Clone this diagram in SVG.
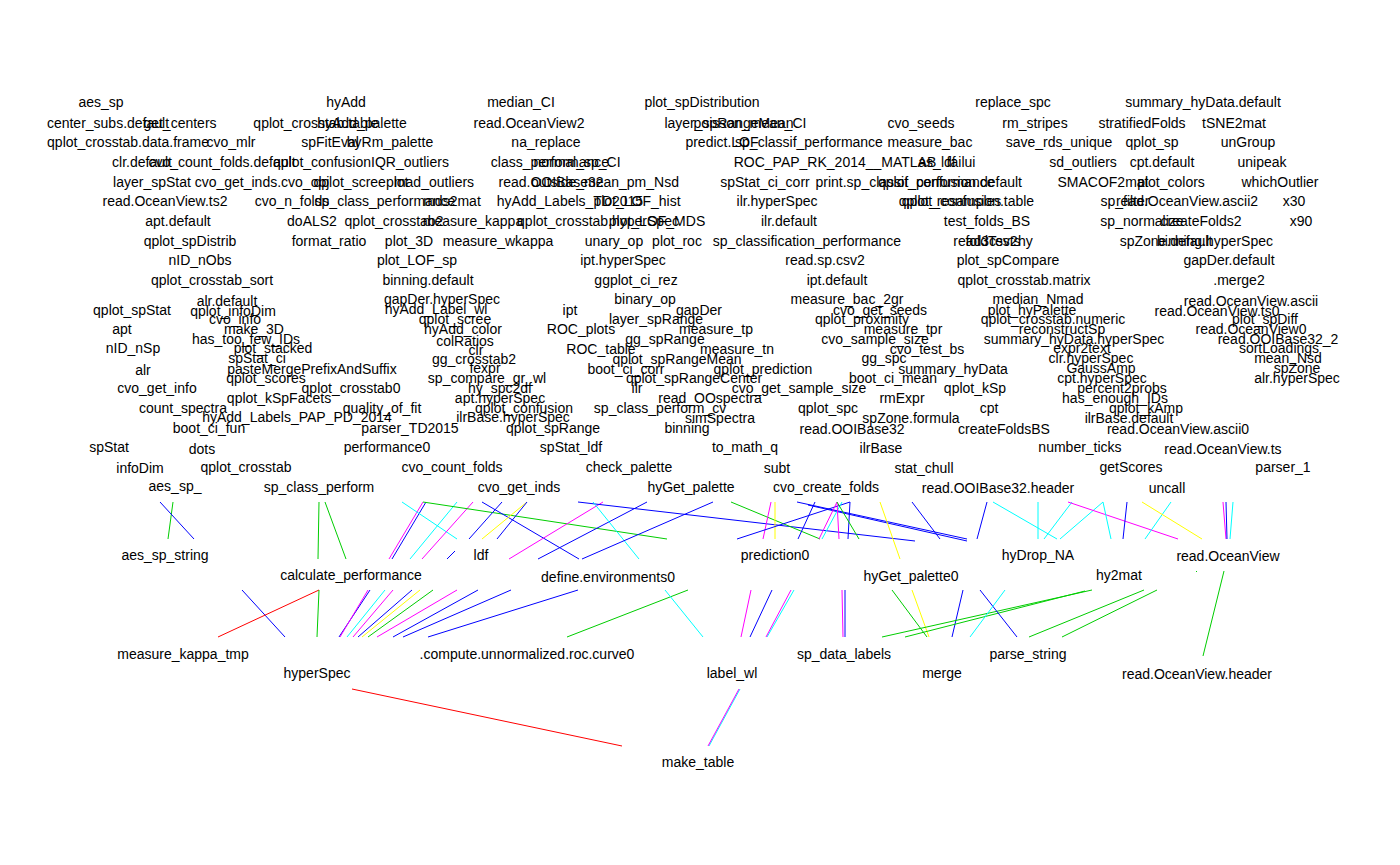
<svg xmlns="http://www.w3.org/2000/svg" width="1400" height="865" viewBox="0 0 1400 865">
<style>
text{font-family:"Liberation Sans",Arial,sans-serif;font-size:14px;text-anchor:middle;fill:#000}
line{stroke-width:1;fill:none}
.b{stroke:#0000FF}.g{stroke:#00CD00}.c{stroke:#00FFFF}.m{stroke:#FF00FF}.y{stroke:#FFFF00}.r{stroke:#FF0000}
</style>
<rect width="1400" height="865" fill="#fff"/>
<g id="connectors">
<line class="g" x1="173" y1="502" x2="168" y2="539"/>
<line class="b" x1="160" y1="502" x2="194" y2="539"/>
<line class="g" x1="319" y1="502" x2="318" y2="559"/>
<line class="g" x1="325" y1="502" x2="346" y2="559"/>
<line class="m" x1="423" y1="502" x2="389" y2="559"/>
<line class="b" x1="426" y1="502" x2="392" y2="559"/>
<line class="c" x1="402" y1="502" x2="457" y2="539"/>
<line class="c" x1="457" y1="502" x2="410" y2="559"/>
<line class="m" x1="473" y1="502" x2="422" y2="559"/>
<line class="g" x1="423" y1="502" x2="667" y2="539"/>
<line class="b" x1="482" y1="502" x2="579" y2="559"/>
<line class="b" x1="502" y1="502" x2="469" y2="539"/>
<line class="y" x1="527" y1="502" x2="482" y2="539"/>
<line class="b" x1="527" y1="502" x2="497" y2="539"/>
<line class="b" x1="455" y1="551" x2="447" y2="559"/>
<line class="m" x1="603" y1="502" x2="509" y2="559"/>
<line class="b" x1="647" y1="502" x2="538" y2="559"/>
<line class="b" x1="578" y1="502" x2="915" y2="541"/>
<line class="c" x1="593" y1="502" x2="639" y2="559"/>
<line class="b" x1="713" y1="502" x2="582" y2="559"/>
<line class="g" x1="731" y1="502" x2="820" y2="539"/>
<line class="m" x1="771" y1="502" x2="763" y2="539"/>
<line class="y" x1="775" y1="502" x2="775" y2="539"/>
<line class="b" x1="797" y1="502" x2="967" y2="539"/>
<line class="b" x1="808" y1="505" x2="967" y2="541"/>
<line class="b" x1="912" y1="502" x2="940" y2="539"/>
<line class="b" x1="850" y1="502" x2="737" y2="539"/>
<line class="b" x1="815" y1="502" x2="798" y2="539"/>
<line class="b" x1="850" y1="502" x2="848" y2="539"/>
<line class="m" x1="837" y1="502" x2="819" y2="539"/>
<line class="c" x1="842" y1="502" x2="822" y2="539"/>
<line class="m" x1="837" y1="502" x2="839" y2="539"/>
<line class="g" x1="837" y1="502" x2="859" y2="539"/>
<line class="y" x1="880" y1="502" x2="900" y2="559"/>
<line class="b" x1="987" y1="502" x2="977" y2="539"/>
<line class="c" x1="993" y1="502" x2="1057" y2="539"/>
<line class="c" x1="1038" y1="502" x2="1038" y2="539"/>
<line class="c" x1="1072" y1="502" x2="1044" y2="539"/>
<line class="c" x1="1103" y1="502" x2="1060" y2="539"/>
<line class="m" x1="1068" y1="502" x2="1178" y2="539"/>
<line class="c" x1="1103" y1="502" x2="1111" y2="539"/>
<line class="b" x1="1127" y1="502" x2="1123" y2="539"/>
<line class="c" x1="1171" y1="502" x2="1145" y2="539"/>
<line class="y" x1="1142" y1="502" x2="1202" y2="539"/>
<line class="m" x1="1223" y1="502" x2="1226" y2="539"/>
<line class="b" x1="1226" y1="502" x2="1227" y2="539"/>
<line class="c" x1="1233" y1="502" x2="1230" y2="539"/>
<line class="b" x1="242" y1="590" x2="285" y2="637"/>
<line class="r" x1="319" y1="590" x2="218" y2="637"/>
<line class="g" x1="319" y1="590" x2="317" y2="637"/>
<line class="b" x1="370" y1="590" x2="339" y2="637"/>
<line class="m" x1="368" y1="590" x2="340" y2="637"/>
<line class="c" x1="385" y1="590" x2="347" y2="637"/>
<line class="m" x1="393" y1="590" x2="353" y2="637"/>
<line class="b" x1="412" y1="590" x2="358" y2="637"/>
<line class="y" x1="420" y1="590" x2="362" y2="637"/>
<line class="g" x1="433" y1="590" x2="368" y2="637"/>
<line class="m" x1="457" y1="590" x2="377" y2="637"/>
<line class="b" x1="478" y1="590" x2="393" y2="637"/>
<line class="b" x1="511" y1="590" x2="403" y2="637"/>
<line class="b" x1="578" y1="590" x2="428" y2="637"/>
<line class="g" x1="688" y1="590" x2="567" y2="637"/>
<line class="c" x1="665" y1="590" x2="703" y2="637"/>
<line class="m" x1="751" y1="590" x2="741" y2="637"/>
<line class="b" x1="772" y1="590" x2="750" y2="637"/>
<line class="c" x1="794" y1="590" x2="767" y2="637"/>
<line class="m" x1="791" y1="590" x2="766" y2="637"/>
<line class="m" x1="842" y1="590" x2="843" y2="637"/>
<line class="b" x1="845" y1="590" x2="845" y2="637"/>
<line class="g" x1="892" y1="590" x2="927" y2="637"/>
<line class="y" x1="912" y1="590" x2="929" y2="637"/>
<line class="b" x1="963" y1="590" x2="952" y2="637"/>
<line class="g" x1="1092" y1="590" x2="882" y2="637"/>
<line class="g" x1="1085" y1="591" x2="905" y2="637"/>
<line class="b" x1="980" y1="590" x2="1017" y2="637"/>
<line class="c" x1="1005" y1="590" x2="970" y2="637"/>
<line class="g" x1="1144" y1="590" x2="1029" y2="637"/>
<line class="g" x1="1157" y1="590" x2="1062" y2="637"/>
<line class="g" x1="1224" y1="571" x2="1203" y2="656"/>
<line class="g" x1="1196" y1="571" x2="1197" y2="572"/>
<line class="r" x1="352" y1="689" x2="622" y2="746"/>
<line class="c" x1="740" y1="689" x2="709" y2="746"/>
<line class="m" x1="739" y1="689" x2="708" y2="746"/>
</g>
<g id="n1"><text x="101" y="107">aes_sp</text></g>
<g id="n2"><text x="346" y="107">hyAdd</text></g>
<g id="n3"><text x="521" y="107">median_CI</text></g>
<g id="n4"><text x="702" y="107">plot_spDistribution</text></g>
<g id="n5"><text x="1013" y="107">replace_spc</text></g>
<g id="n6"><text x="1203" y="107">summary_hyData.default</text></g>
<g id="n7"><text x="108" y="128">center_subs.default</text></g>
<g id="n8"><text x="180" y="128">get_centers</text></g>
<g id="n9"><text x="316" y="128">qplot_crosstab.table</text></g>
<g id="n10"><text x="362" y="128">hyAdd_palette</text></g>
<g id="n11"><text x="529" y="128">read.OceanView2</text></g>
<g id="n12"><text x="729" y="128">layer_spRangeMean</text></g>
<g id="n13"><text x="750" y="128">poisson_mean_CI</text></g>
<g id="n14"><text x="921" y="128">cvo_seeds</text></g>
<g id="n15"><text x="1035" y="128">rm_stripes</text></g>
<g id="n16"><text x="1142" y="128">stratifiedFolds</text></g>
<g id="n17"><text x="1234" y="128">tSNE2mat</text></g>
<g id="n18"><text x="128" y="147">qplot_crosstab.data.frame</text></g>
<g id="n19"><text x="231" y="147">cvo_mlr</text></g>
<g id="n20"><text x="330" y="147">spFitEval</text></g>
<g id="n21"><text x="390" y="147">hyRm_palette</text></g>
<g id="n22"><text x="546" y="147">na_replace</text></g>
<g id="n23"><text x="722" y="147">predict.LOF</text></g>
<g id="n24"><text x="809" y="147">sp_classif_performance</text></g>
<g id="n25"><text x="930" y="147">measure_bac</text></g>
<g id="n26"><text x="1059" y="147">save_rds_unique</text></g>
<g id="n27"><text x="1152" y="147">qplot_sp</text></g>
<g id="n28"><text x="1248" y="147">unGroup</text></g>
<g id="n29"><text x="142" y="167">clr.default</text></g>
<g id="n30"><text x="222" y="167">cvo_count_folds.default</text></g>
<g id="n31"><text x="322" y="167">qplot_confusion</text></g>
<g id="n32"><text x="410" y="167">IQR_outliers</text></g>
<g id="n33"><text x="550" y="167">class_performance</text></g>
<g id="n34"><text x="577" y="167">normal_sp_CI</text></g>
<g id="n35"><text x="835" y="167">ROC_PAP_RK_2014__MATLAB</text></g>
<g id="n36"><text x="937" y="167">as_ldf</text></g>
<g id="n37"><text x="961" y="167">failui</text></g>
<g id="n38"><text x="1083" y="167">sd_outliers</text></g>
<g id="n39"><text x="1162" y="167">cpt.default</text></g>
<g id="n40"><text x="1262" y="167">unipeak</text></g>
<g id="n41"><text x="152" y="187">layer_spStat</text></g>
<g id="n42"><text x="262" y="187">cvo_get_inds.cvo_obj</text></g>
<g id="n43"><text x="361" y="187">qplot_screeplot</text></g>
<g id="n44"><text x="434" y="187">mad_outliers</text></g>
<g id="n45"><text x="551" y="187">read.OOIBase32</text></g>
<g id="n46"><text x="605" y="187">outside_mean_pm_Nsd</text></g>
<g id="n47"><text x="765" y="187">spStat_ci_corr</text></g>
<g id="n48"><text x="905" y="187">print.sp_classif_performance</text></g>
<g id="n49"><text x="950" y="187">qplot_confusion.default</text></g>
<g id="n50"><text x="1103" y="187">SMACOF2mat</text></g>
<g id="n51"><text x="1171" y="187">plot_colors</text></g>
<g id="n52"><text x="1280" y="187">whichOutlier</text></g>
<g id="n53"><text x="165" y="206">read.OceanView.ts2</text></g>
<g id="n54"><text x="292" y="206">cvo_n_folds</text></g>
<g id="n55"><text x="385" y="206">sp_class_performance</text></g>
<g id="n56"><text x="452" y="206">mds2mat</text></g>
<g id="n57"><text x="570" y="206">hyAdd_Labels_TD2015</text></g>
<g id="n58"><text x="637" y="206">plot_LOF_hist</text></g>
<g id="n59"><text x="777" y="206">ilr.hyperSpec</text></g>
<g id="n60"><text x="950" y="206">qplot_resamples</text></g>
<g id="n61"><text x="968" y="206">qplot_confusion.table</text></g>
<g id="n62"><text x="1125" y="206">sp_filter</text></g>
<g id="n63"><text x="1187" y="206">read.OceanView.ascii2</text></g>
<g id="n64"><text x="1294" y="206">x30</text></g>
<g id="n65"><text x="178" y="226">apt.default</text></g>
<g id="n66"><text x="312" y="226">doALS2</text></g>
<g id="n67"><text x="394" y="226">qplot_crosstab2</text></g>
<g id="n68"><text x="473" y="226">measure_kappa</text></g>
<g id="n69"><text x="598" y="226">qplot_crosstab.hyperSpec</text></g>
<g id="n70"><text x="657" y="226">plot_LOF_MDS</text></g>
<g id="n71"><text x="789" y="226">ilr.default</text></g>
<g id="n72"><text x="987" y="226">test_folds_BS</text></g>
<g id="n73"><text x="1142" y="226">sp_normalize</text></g>
<g id="n74"><text x="1201" y="226">createFolds2</text></g>
<g id="n75"><text x="1301" y="226">x90</text></g>
<g id="n76"><text x="190" y="246">qplot_spDistrib</text></g>
<g id="n77"><text x="329" y="246">format_ratio</text></g>
<g id="n78"><text x="409" y="246">plot_3D</text></g>
<g id="n79"><text x="498" y="246">measure_wkappa</text></g>
<g id="n80"><text x="614" y="246">unary_op</text></g>
<g id="n81"><text x="677" y="246">plot_roc</text></g>
<g id="n82"><text x="807" y="246">sp_classification_performance</text></g>
<g id="n83"><text x="993" y="246">read3csv2hy</text></g>
<g id="n84"><text x="993" y="246">foldTests</text></g>
<g id="n85"><text x="1166" y="246">spZone.default</text></g>
<g id="n86"><text x="1215" y="246">binning.hyperSpec</text></g>
<g id="n87"><text x="200" y="265">nID_nObs</text></g>
<g id="n88"><text x="417" y="265">plot_LOF_sp</text></g>
<g id="n89"><text x="623" y="265">ipt.hyperSpec</text></g>
<g id="n90"><text x="825" y="265">read.sp.csv2</text></g>
<g id="n91"><text x="1008" y="265">plot_spCompare</text></g>
<g id="n92"><text x="1229" y="265">gapDer.default</text></g>
<g id="n93"><text x="212" y="285">qplot_crosstab_sort</text></g>
<g id="n94"><text x="428" y="285">binning.default</text></g>
<g id="n95"><text x="636" y="285">ggplot_ci_rez</text></g>
<g id="n96"><text x="837" y="285">ipt.default</text></g>
<g id="n97"><text x="1024" y="285">qplot_crosstab.matrix</text></g>
<g id="n98"><text x="1239" y="285">.merge2</text></g>
<g id="n99"><text x="227" y="306">alr.default</text></g>
<g id="n100"><text x="132" y="315">qplot_spStat</text></g>
<g id="n101"><text x="233" y="316">qplot_infoDim</text></g>
<g id="n102"><text x="122" y="334">apt</text></g>
<g id="n103"><text x="235" y="324">cvo_info</text></g>
<g id="n104"><text x="254" y="334">make_3D</text></g>
<g id="n105"><text x="246" y="344">has_too_few_IDs</text></g>
<g id="n106"><text x="133" y="353">nID_nSp</text></g>
<g id="n107"><text x="273" y="353">plot_stacked</text></g>
<g id="n108"><text x="257" y="363">spStat_ci</text></g>
<g id="n109"><text x="143" y="375">alr</text></g>
<g id="n110"><text x="312" y="374">pasteMergePrefixAndSuffix</text></g>
<g id="n111"><text x="266" y="383">qplot_scores</text></g>
<g id="n112"><text x="157" y="393">cvo_get_info</text></g>
<g id="n113"><text x="351" y="393">qplot_crosstab0</text></g>
<g id="n114"><text x="279" y="403">qplot_kSpFacets</text></g>
<g id="n115"><text x="183" y="413">count_spectra</text></g>
<g id="n116"><text x="382" y="413">quality_of_fit</text></g>
<g id="n117"><text x="297" y="422">hyAdd_Labels_PAP_PD_2014</text></g>
<g id="n118"><text x="209" y="433">boot_ci_fun</text></g>
<g id="n119"><text x="410" y="433">parser_TD2015</text></g>
<g id="n120"><text x="109" y="452">spStat</text></g>
<g id="n121"><text x="202" y="454">dots</text></g>
<g id="n122"><text x="387" y="452">performance0</text></g>
<g id="n123"><text x="140" y="473">infoDim</text></g>
<g id="n124"><text x="246" y="472">qplot_crosstab</text></g>
<g id="n125"><text x="442" y="304">gapDer.hyperSpec</text></g>
<g id="n126"><text x="436" y="314">hyAdd_Label_wl</text></g>
<g id="n127"><text x="455" y="324">qplot_scree</text></g>
<g id="n128"><text x="463" y="334">hyAdd_color</text></g>
<g id="n129"><text x="465" y="346">colRatios</text></g>
<g id="n130"><text x="476" y="355">clr</text></g>
<g id="n131"><text x="474" y="364">gg_crosstab2</text></g>
<g id="n132"><text x="485" y="373">fexpr</text></g>
<g id="n133"><text x="487" y="383">sp_compare_gr_wl</text></g>
<g id="n134"><text x="500" y="393">hy_spc2df</text></g>
<g id="n135"><text x="500" y="403">apt.hyperSpec</text></g>
<g id="n136"><text x="524" y="413">qplot_confusion</text></g>
<g id="n137"><text x="513" y="422">ilrBase.hyperSpec</text></g>
<g id="n138"><text x="553" y="433">qplot_spRange</text></g>
<g id="n139"><text x="571" y="452">spStat_ldf</text></g>
<g id="n140"><text x="452" y="472">cvo_count_folds</text></g>
<g id="n141"><text x="629" y="472">check_palette</text></g>
<g id="n142"><text x="645" y="304">binary_op</text></g>
<g id="n143"><text x="570" y="315">ipt</text></g>
<g id="n144"><text x="699" y="315">gapDer</text></g>
<g id="n145"><text x="656" y="324">layer_spRange</text></g>
<g id="n146"><text x="581" y="334">ROC_plots</text></g>
<g id="n147"><text x="716" y="334">measure_tp</text></g>
<g id="n148"><text x="665" y="344">gg_spRange</text></g>
<g id="n149"><text x="601" y="354">ROC_table</text></g>
<g id="n150"><text x="737" y="354">measure_tn</text></g>
<g id="n151"><text x="677" y="364">qplot_spRangeMean</text></g>
<g id="n152"><text x="626" y="374">boot_ci_corr</text></g>
<g id="n153"><text x="763" y="374">qplot_prediction</text></g>
<g id="n154"><text x="694" y="383">qplot_spRangeCenter</text></g>
<g id="n155"><text x="637" y="393">ilr</text></g>
<g id="n156"><text x="799" y="393">cvo_get_sample_size</text></g>
<g id="n157"><text x="710" y="403">read_OOspectra</text></g>
<g id="n158"><text x="660" y="413">sp_class_perform_cv</text></g>
<g id="n159"><text x="720" y="423">simSpectra</text></g>
<g id="n160"><text x="687" y="433">binning</text></g>
<g id="n161"><text x="745" y="452">to_math_q</text></g>
<g id="n162"><text x="847" y="304">measure_bac_2gr</text></g>
<g id="n163"><text x="880" y="315">cvo_get_seeds</text></g>
<g id="n164"><text x="862" y="324">qplot_proximity</text></g>
<g id="n165"><text x="903" y="334">measure_tpr</text></g>
<g id="n166"><text x="875" y="344">cvo_sample_size</text></g>
<g id="n167"><text x="927" y="354">cvo_test_bs</text></g>
<g id="n168"><text x="884" y="363">gg_spc</text></g>
<g id="n169"><text x="953" y="374">summary_hyData</text></g>
<g id="n170"><text x="893" y="383">boot_ci_mean</text></g>
<g id="n171"><text x="975" y="393">qplot_kSp</text></g>
<g id="n172"><text x="902" y="403">rmExpr</text></g>
<g id="n173"><text x="828" y="413">qplot_spc</text></g>
<g id="n174"><text x="989" y="413">cpt</text></g>
<g id="n175"><text x="911" y="423">spZone.formula</text></g>
<g id="n176"><text x="852" y="434">read.OOIBase32</text></g>
<g id="n177"><text x="1004" y="434">createFoldsBS</text></g>
<g id="n178"><text x="881" y="453">ilrBase</text></g>
<g id="n179"><text x="777" y="473">subt</text></g>
<g id="n180"><text x="924" y="473">stat_chull</text></g>
<g id="n181"><text x="1080" y="452">number_ticks</text></g>
<g id="n182"><text x="1038" y="304">median_Nmad</text></g>
<g id="n183"><text x="1032" y="315">plot_hyPalette</text></g>
<g id="n184"><text x="1053" y="324">qplot_crosstab.numeric</text></g>
<g id="n185"><text x="1062" y="334">reconstructSp</text></g>
<g id="n186"><text x="1074" y="344">summary_hyData.hyperSpec</text></g>
<g id="n187"><text x="1082" y="353">expr2text</text></g>
<g id="n188"><text x="1091" y="363">clr.hyperSpec</text></g>
<g id="n189"><text x="1101" y="373">GaussAmp</text></g>
<g id="n190"><text x="1102" y="383">cpt.hyperSpec</text></g>
<g id="n191"><text x="1122" y="393">percent2probs</text></g>
<g id="n192"><text x="1115" y="403">has_enough_IDs</text></g>
<g id="n193"><text x="1146" y="413">qplot_kAmp</text></g>
<g id="n194"><text x="1129" y="423">ilrBase.default</text></g>
<g id="n195"><text x="1178" y="434">read.OceanView.ascii0</text></g>
<g id="n196"><text x="1223" y="454">read.OceanView.ts</text></g>
<g id="n197"><text x="1131" y="472">getScores</text></g>
<g id="n198"><text x="1283" y="472">parser_1</text></g>
<g id="n199"><text x="1251" y="306">read.OceanView.ascii</text></g>
<g id="n200"><text x="1217" y="316">read.OceanView.ts0</text></g>
<g id="n201"><text x="1265" y="324">plot_spDiff</text></g>
<g id="n202"><text x="1251" y="334">read.OceanView0</text></g>
<g id="n203"><text x="1278" y="344">read.OOIBase32_2</text></g>
<g id="n204"><text x="1279" y="353">sortLoadings</text></g>
<g id="n205"><text x="1288" y="363">mean_Nsd</text></g>
<g id="n206"><text x="1297" y="373">spZone</text></g>
<g id="n207"><text x="1297" y="383">alr.hyperSpec</text></g>
<g id="n208"><text x="175" y="491">aes_sp_</text></g>
<g id="n209"><text x="319" y="492">sp_class_perform</text></g>
<g id="n210"><text x="519" y="492">cvo_get_inds</text></g>
<g id="n211"><text x="691" y="492">hyGet_palette</text></g>
<g id="n212"><text x="826" y="492">cvo_create_folds</text></g>
<g id="n213"><text x="998" y="493">read.OOIBase32.header</text></g>
<g id="n214"><text x="1167" y="493">uncall</text></g>
<g id="n215"><text x="165" y="560">aes_sp_string</text></g>
<g id="n216"><text x="481" y="560">ldf</text></g>
<g id="n217"><text x="775" y="560">prediction0</text></g>
<g id="n218"><text x="1038" y="560">hyDrop_NA</text></g>
<g id="n219"><text x="1228" y="561">read.OceanView</text></g>
<g id="n220"><text x="351" y="580">calculate_performance</text></g>
<g id="n221"><text x="608" y="582">define.environments0</text></g>
<g id="n222"><text x="911" y="581">hyGet_palette0</text></g>
<g id="n223"><text x="1119" y="580">hy2mat</text></g>
<g id="n224"><text x="183" y="659">measure_kappa_tmp</text></g>
<g id="n225"><text x="527" y="659">.compute.unnormalized.roc.curve0</text></g>
<g id="n226"><text x="844" y="659">sp_data_labels</text></g>
<g id="n227"><text x="1028" y="659">parse_string</text></g>
<g id="n228"><text x="317" y="678">hyperSpec</text></g>
<g id="n229"><text x="732" y="678">label_wl</text></g>
<g id="n230"><text x="942" y="678">merge</text></g>
<g id="n231"><text x="1197" y="679">read.OceanView.header</text></g>
<g id="n232"><text x="698" y="767">make_table</text></g>
</svg>
